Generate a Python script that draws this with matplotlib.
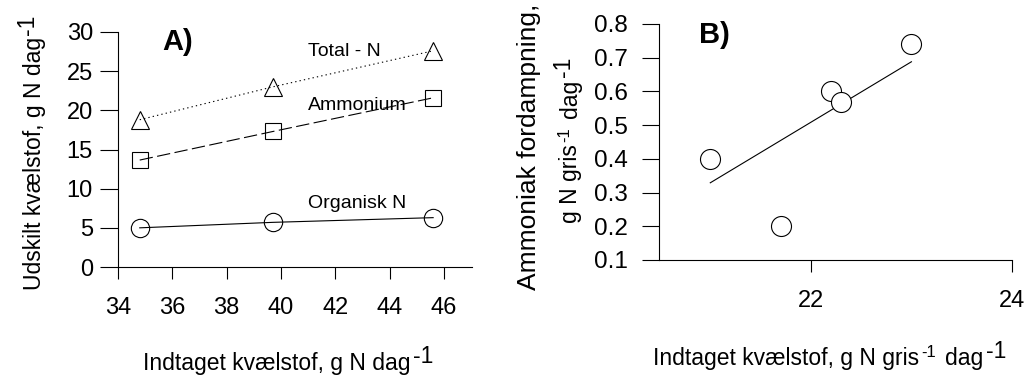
import matplotlib

matplotlib.use("Agg")
import matplotlib.pyplot as plt

plt.rcParams["font.family"] = ["Liberation Sans", "DejaVu Sans"]

# panel A: excreted nitrogen vs. intake
intake_a = [34.8, 39.7, 45.6]
total_n = [18.8, 23.0, 27.6]
ammonium = [13.65, 17.3, 21.6]
organic_n = [5.0, 5.7, 6.3]
series_labels = ["Total - N", "Ammonium", "Organisk N"]
label_pos = [(41.0, 26.9), (41.0, 20.0), (41.0, 7.5)]
xticks_a = [34, 36, 38, 40, 42, 44, 46]
yticks_a = [0, 5, 10, 15, 20, 25, 30]

# panel B: ammonia volatilisation vs. intake per pig
intake_b = [21.0, 21.7, 22.2, 22.3, 23.0]
ammonia = [0.40, 0.20, 0.60, 0.57, 0.74]
fit_x = [21.0, 23.0]
fit_y = [0.329, 0.688]
xticks_b = [22, 24]
yticks_b = [0.1, 0.2, 0.3, 0.4, 0.5, 0.6, 0.7, 0.8]

W, H = 1027, 378


def fx(px):
    return px / W


def fy(py):
    return (H - py) / H


def label_with_sup(fig, ax, x, y, pieces, rotated=False):
    """Text pieces (text, size, rise_px, gap_px) laid out along one baseline."""
    rot = 90 if rotated else 0
    text, size, _, _ = pieces[0]
    prev = fig.text(x, y, text, fontsize=size, rotation=rot, rotation_mode="anchor",
                    ha="left", va="baseline")
    prev_rise = 0
    for text, size, rise, gap in pieces[1:]:
        dy = rise - prev_rise
        off = (-dy, gap) if rotated else (gap, dy)
        corner = (1, 1) if rotated else (1, 0)
        prev = ax.annotate(text, xy=corner, xycoords=prev, xytext=off, textcoords="offset pixels",
                           fontsize=size, rotation=rot, rotation_mode="anchor",
                           ha="left", va="bottom", annotation_clip=False)
        prev_rise = rise


def style_axes(ax):
    for side in ["top", "right"]:
        ax.spines[side].set_visible(False)
    for side in ["left", "bottom"]:
        ax.spines[side].set_linewidth(0.8)
        ax.spines[side].set_color("black")


fig = plt.figure(figsize=(W / 100, H / 100), dpi=100)

# ---- A ----
ax1 = fig.add_axes([fx(118), fy(267), (472 - 118) / W, (267 - 32) / H])
style_axes(ax1)
ax1.plot(intake_a, total_n, color="black", lw=0.8, dashes=(1.2, 2.8),
         marker="^", ms=12.5, mfc="none", mec="black", mew=0.8)
ax1.plot(intake_a, ammonium, color="black", lw=0.8, dashes=(12, 4),
         marker="s", ms=12, mfc="none", mec="black", mew=0.8)
ax1.plot(intake_a, organic_n, color="black", lw=0.8,
         marker="o", ms=13.2, mfc="none", mec="black", mew=0.8)
for text, (lx, ly) in zip(series_labels, label_pos):
    ax1.text(lx, ly, text, fontsize=14, ha="left", va="baseline")
ax1.text(35.62, 27.7, "A)", fontsize=21, fontweight="bold", ha="left", va="baseline")
ax1.set_xlim(34, 47.03)
ax1.set_ylim(0, 30)
ax1.set_xticks(xticks_a)
ax1.set_yticks(yticks_a)
ax1.tick_params(axis="y", length=13, width=0.8, pad=5, labelsize=17)
ax1.tick_params(axis="x", length=8.4, width=0.8, pad=13.3, labelsize=17)

# ---- B ----
ax2 = fig.add_axes([fx(659), fy(260), (1012 - 659) / W, (260 - 24) / H])
style_axes(ax2)
ax2.plot(fit_x, fit_y, color="black", lw=0.8, zorder=2)
ax2.scatter(intake_b, ammonia, s=14.4 ** 2, facecolor="white", edgecolor="black",
            linewidth=0.8, zorder=3)
ax2.text(20.89, 0.744, "B)", fontsize=21, fontweight="bold", ha="left", va="baseline")
ax2.set_xlim(20.49, 24)
ax2.set_ylim(0.1, 0.8)
ax2.set_xticks(xticks_b)
ax2.set_yticks(yticks_b)
ax2.set_yticklabels([f"{v:.1f}" for v in yticks_b])
ax2.tick_params(axis="y", length=12.2, width=0.8, pad=10, labelsize=17.5)
ax2.tick_params(axis="x", length=8.4, width=0.8, pad=13.2, labelsize=17)

# axis labels with full-size superscripts
label_with_sup(fig, ax1, fx(143), fy(370),
               [("Indtaget kvælstof, g N dag", 16.5, 0, 0), ("-1", 16.5, 7, 2)])
label_with_sup(fig, ax1, fx(41), fy(290),
               [("Udskilt kvælstof, g N dag", 16.5, 0, 0), ("-1", 16.5, 7, 2)], rotated=True)
label_with_sup(fig, ax2, fx(653), fy(365),
               [("Indtaget kvælstof, g N gris", 16.5, 0, 0), ("-1", 12, 10, 2),
                ("dag", 16.5, 0, 9), ("-1", 16.5, 7, 3)])
fig.text(fx(536), fy(290), "Ammoniak fordampning,", fontsize=19, rotation=90,
         rotation_mode="anchor", ha="left", va="baseline")
label_with_sup(fig, ax2, fx(577), fy(223),
               [("g N gris", 16.5, 0, 0), ("-1", 12, 10, 2),
                ("dag", 16.5, 0, 9), ("-1", 16.5, 7, 3)], rotated=True)

fig.savefig("out.png", dpi=100)
